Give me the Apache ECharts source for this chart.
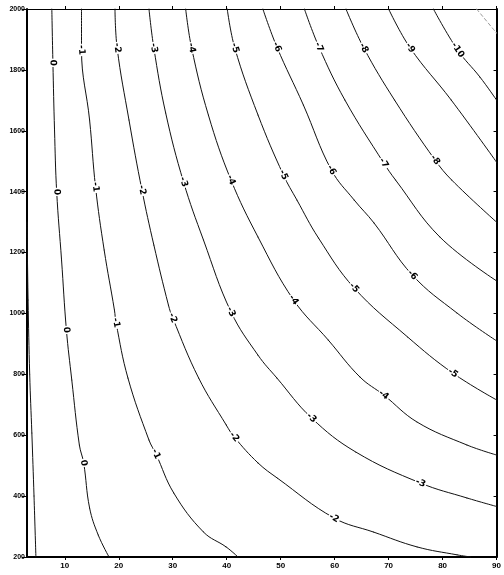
<!DOCTYPE html>
<html>
<head>
<meta charset="utf-8">
<script src="https://cdn.jsdelivr.net/npm/echarts@6/dist/echarts.min.js"></script>
<style>
html, body { margin: 0; padding: 0; background: #fff; }
#main { width: 504px; height: 575px; }
</style>
</head>
<body>
<div id="main"></div>
<script>
// 坐标刻度
var xTicks = [10, 20, 30, 40, 50, 60, 70, 80, 90];

// 等值线 [x, y]
var contourP1 = [[3.0, 1300], [3.2, 1044], [3.5, 800], [3.9, 607], [4.3, 400], [4.65, 200]];
var contour0 = [[7.6, 2000], [7.8, 1823], [8.1, 1603], [8.5, 1399], [9.4, 1176], [10.3, 946], [11.3, 781], [12.7, 568], [13.5, 509], [14.6, 361], [16.2, 272], [18.2, 200]];
var contourM1 = [[13.1, 2000], [13.1, 1865], [14.6, 1635], [15.7, 1415], [17.3, 1208], [19.2, 1011], [19.5, 969], [21.7, 788], [25.6, 584], [26.9, 538], [30.2, 410], [35.7, 282], [39.9, 233], [42.1, 200]];
var contourM2 = [[19.3, 2000], [19.7, 1872], [21.9, 1635], [24.3, 1405], [26.5, 1225], [29.2, 1028], [30.0, 985], [34.8, 788], [39.9, 634], [41.4, 594], [45.8, 509], [49.4, 459], [59.9, 328], [67.2, 282], [75.3, 233], [82.7, 207], [85.2, 200]];
var contourM3 = [[25.6, 2000], [26.5, 1872], [28.7, 1658], [32.0, 1432], [35.7, 1241], [40.8, 1005], [45.8, 863], [49.3, 788], [55.7, 657], [63.9, 545], [75.9, 443], [84.5, 394], [90, 366]];
var contourM4 = [[32.4, 2000], [33.5, 1872], [36.6, 1652], [40.8, 1438], [45.8, 1251], [52.4, 1044], [58.8, 913], [64.7, 791], [69.1, 732], [75.3, 643], [84.5, 568], [90, 535]];
var contourM5 = [[40.1, 2000], [41.5, 1872], [45.8, 1652], [50.5, 1455], [53.0, 1373], [57.0, 1248], [63.6, 1084], [73.5, 923], [81.9, 804], [90, 716]];
var contourM6 = [[46.7, 2000], [49.3, 1875], [54.2, 1685], [59.4, 1471], [63.6, 1373], [67.3, 1297], [74.4, 1126], [82.7, 1001], [90, 910]];
var contourM7 = [[54.4, 2000], [57.1, 1875], [61.9, 1701], [69.1, 1494], [71.3, 1438], [79.5, 1251], [90, 1107]];
var contourM8 = [[62.1, 2000], [65.4, 1872], [71.1, 1701], [78.6, 1504], [81.7, 1438], [90, 1300]];
var contourM9 = [[70.0, 2000], [74.0, 1872], [81.6, 1701], [90, 1497]];
var contourM10 = [[78.3, 2000], [82.8, 1865], [86.9, 1777], [90, 1701]];
var contourM11 = [[86.3, 2000], [90, 1921]];

// 线上标注所在的点
var labels0 = [1, 3, 5, 8];
var labelsM1 = [1, 3, 6, 9];
var labelsM2 = [1, 3, 6, 9, 12];
var labelsM3 = [1, 3, 5, 8, 10];
var labelsM4 = [1, 3, 5, 8];
var labelsM5 = [1, 3, 6, 8];
var labelsM6 = [1, 3, 6];
var labelsM7 = [1, 3];
var labelsM8 = [1, 3];
var labelsM9 = [1];
var labelsM10 = [1];

var lines = [
    { name: '1', pts: contourP1, idx: [] },
    { name: '0', pts: contour0, idx: labels0 },
    { name: '-1', pts: contourM1, idx: labelsM1 },
    { name: '-2', pts: contourM2, idx: labelsM2 },
    { name: '-3', pts: contourM3, idx: labelsM3 },
    { name: '-4', pts: contourM4, idx: labelsM4 },
    { name: '-5', pts: contourM5, idx: labelsM5 },
    { name: '-6', pts: contourM6, idx: labelsM6 },
    { name: '-7', pts: contourM7, idx: labelsM7 },
    { name: '-8', pts: contourM8, idx: labelsM8 },
    { name: '-9', pts: contourM9, idx: labelsM9 },
    { name: '-10', pts: contourM10, idx: labelsM10 },
    { name: '-11', pts: contourM11, idx: [], faint: true }
];

var labelFont = 'Liberation Sans Narrow, Arial Narrow, Liberation Sans, sans-serif';

var chart = echarts.init(document.getElementById('main'));

function makeSeries(line, angles) {
    var data = line.pts.map(function(p, i){
        if (line.idx.indexOf(i) < 0) return p;
        return {
            value: p,
            label: { show: true, formatter: line.name, rotate: angles ? angles[i] : 0 }
        };
    });
    return {
        type: 'line',
        name: line.name,
        data: data,
        smooth: 0.4,
        symbol: 'circle',
        symbolSize: 1,
        showSymbol: true,
        silent: true,
        lineStyle: line.faint ? { color: '#999', width: 1, type: 'dashed' } : { color: '#111', width: 1 },
        itemStyle: { color: line.faint ? '#999' : '#111' },
        label: {
            show: false,
            position: 'inside',
            fontSize: 9,
            fontWeight: 'bold',
            fontFamily: 'DejaVu Sans',
            color: '#000',
            backgroundColor: '#fff',
            padding: [0, 1]
        },
        emphasis: { disabled: true },
        z: 3
    };
}

var option = {
    animation: false,
    backgroundColor: '#fff',
    grid: { left: 27, right: 3, top: 9, bottom: 18 },
    xAxis: [{
        type: 'value', min: 3, max: 90, position: 'bottom',
        axisLine: { show: true, onZero: false, lineStyle: { color: '#000', width: 2 } },
        axisTick: { show: true, customValues: xTicks, length: 3, lineStyle: { color: '#000' } },
        axisLabel: { customValues: xTicks, fontSize: 8, fontWeight: 'bold', color: '#000', margin: 5, fontFamily: labelFont },
        splitLine: { show: false }
    }, {
        type: 'value', min: 3, max: 90, position: 'top',
        axisLine: { show: true, onZero: false, lineStyle: { color: '#000', width: 1 } },
        axisTick: { show: true, customValues: xTicks, length: 3, lineStyle: { color: '#000' } },
        axisLabel: { show: false },
        splitLine: { show: false }
    }],
    yAxis: [{
        type: 'value', min: 200, max: 2000, interval: 200, position: 'left',
        axisLine: { show: true, onZero: false, lineStyle: { color: '#000', width: 2 } },
        axisTick: { show: true, length: 5, lineStyle: { color: '#000' } },
        axisLabel: {
            fontSize: 7, fontWeight: 'bold', color: '#000', margin: 2, fontFamily: labelFont,
            formatter: function(v){ return String(v); }
        },
        splitLine: { show: false }
    }, {
        type: 'value', min: 200, max: 2000, interval: 200, position: 'right',
        axisLine: { show: true, onZero: false, lineStyle: { color: '#000', width: 2 } },
        axisTick: { show: true, inside: true, length: 3, lineStyle: { color: '#000' } },
        axisLabel: { show: false },
        splitLine: { show: false }
    }],
    series: lines.map(function(l){ return makeSeries(l); })
};
chart.setOption(option);

// 按曲线走向旋转标注
var rotated = lines.map(function(l){
    var angles = {};
    l.idx.forEach(function(i){
        var a = chart.convertToPixel({ gridIndex: 0 }, l.pts[Math.max(i - 1, 0)]);
        var b = chart.convertToPixel({ gridIndex: 0 }, l.pts[Math.min(i + 1, l.pts.length - 1)]);
        angles[i] = -Math.atan2(b[1] - a[1], b[0] - a[0]) * 180 / Math.PI;
    });
    return makeSeries(l, angles);
});
chart.setOption({ series: rotated });
</script>
</body>
</html>
